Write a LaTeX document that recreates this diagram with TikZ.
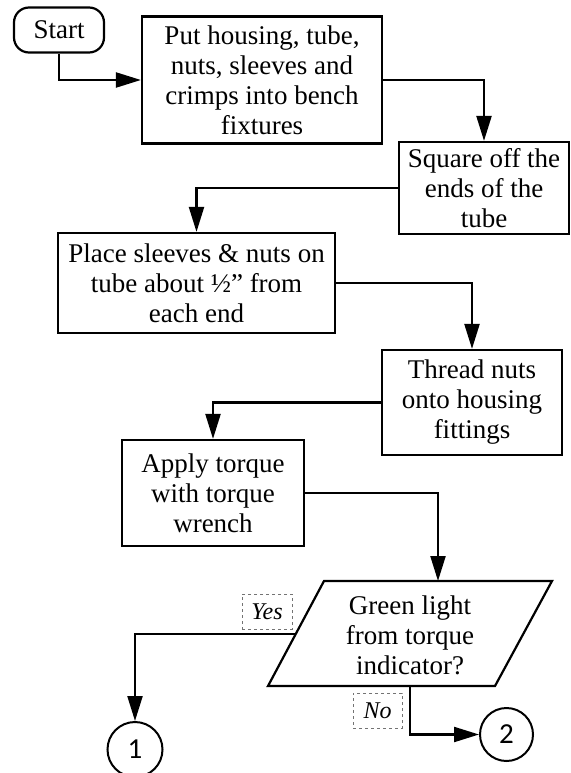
\documentclass[tikz,border=0pt]{standalone}
\usepackage{fontspec}
\setmainfont{Liberation Serif}
\newfontfamily\digitfont{Carlito}
\usetikzlibrary{arrows.meta}
\begin{document}
\begin{tikzpicture}[x=1pt,y=-1pt,
  box/.style={draw,line width=2.2pt,inner sep=0pt,align=center,font=\fontsize{27}{30}\selectfont},
  arr/.style={line width=2.2pt,-{Triangle[length=25pt,width=15pt]}},
  lbl/.style={draw=black!55,dashed,line width=0.7pt,inner sep=0pt,font=\itshape\fontsize{24}{26}\selectfont},
  conn/.style={draw,circle,line width=2pt,inner sep=0pt,minimum size=54pt,font=\digitfont\fontsize{29}{30}\selectfont}]
\useasboundingbox (0,0) rectangle (570,773);
\node[box,rounded corners=15pt,minimum width=90pt,minimum height=45pt] (start) at (59,30) {Start};
\node[box,minimum width=240pt,minimum height=127pt] (box1) at (262,80) {Put housing, tube,\\nuts, sleeves and\\crimps into bench\\fixtures};
\node[box,minimum width=170pt,minimum height=92pt] (sq) at (484,188) {Square off the\\ends of the\\tube};
\node[box,minimum width=277pt,minimum height=100pt] (place) at (196.5,283) {Place sleeves \& nuts on\\tube about ½” from\\each end};
\node[box,minimum width=180pt,minimum height=105pt] (thread) at (472,402.5) {Thread nuts\\onto housing\\fittings};
\node[box,minimum width=182pt,minimum height=106pt] (apply) at (213,493) {Apply torque\\with torque\\wrench};
% decision parallelogram
\coordinate (dbl) at (268,686);
\coordinate (dtl) at (324,581);
\coordinate (dtr) at (552,581);
\coordinate (dbr) at (495,686);
\draw[line width=2.2pt,line join=miter] (dbl) -- (dtl) -- (dtr) -- (dbr) -- cycle;
\node[align=center,inner sep=0pt,font=\fontsize{27}{30}\selectfont] (dec) at (410,635) {Green light\\from torque\\indicator?};
\coordinate (dectop) at (438,581);
\coordinate (decleft) at (296,634);
\coordinate (decbot) at (410,686);
\node[conn,minimum size=55pt] (c1) at (135,749.5) {1};
\node[conn,minimum size=53pt] (c2) at (506.5,734.5) {2};
\node[lbl,minimum width=50pt,minimum height=35pt] (yes) at (267,611.5) {Yes};
\node[lbl,minimum width=49pt,minimum height=35pt] (no) at (377.5,710.5) {No};
% connectors
\draw[arr] (start.south) |- (box1.west);
\draw[arr] (box1.east) -| (sq.north);
\draw[arr] (sq.west) -| (place.north);
\draw[arr] (place.east) -| (thread.north);
\draw[arr] (thread.west) -| (apply.north);
\draw[arr] (apply.east) -| (dectop);
\draw[arr] (decleft) -| (c1.north);
\draw[arr] (decbot) |- (c2.west);
\end{tikzpicture}
\end{document}
